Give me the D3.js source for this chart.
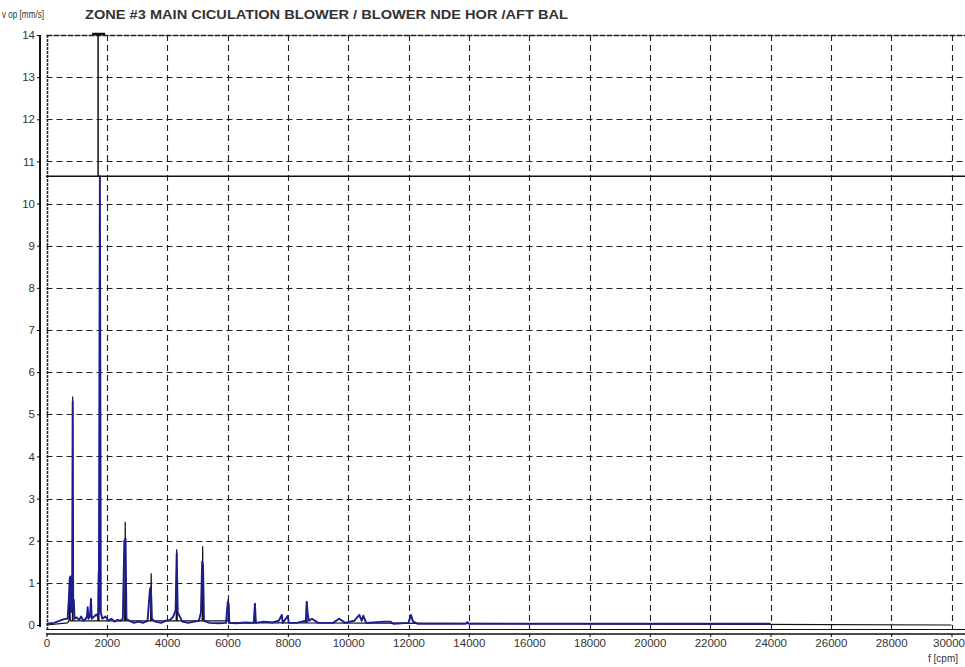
<!DOCTYPE html>
<html><head><meta charset="utf-8">
<script src="https://cdn.jsdelivr.net/npm/d3@7"></script>
<style>
html,body{margin:0;padding:0;background:#fff;}
svg{display:block;}
text{font-family:"Liberation Sans",Arial,sans-serif;fill:#333;}
</style></head>
<body>
<svg id="chart" width="965" height="667"></svg>
<script>
const title = "ZONE #3 MAIN CICULATION BLOWER / BLOWER NDE HOR /AFT BAL";
const yLabel = "v op [mm/s]";
const xLabel = "f [cpm]";
const xTicks = [0,2000,4000,6000,8000,10000,12000,14000,16000,18000,20000,22000,24000,26000,28000,30000];
const yTicks = [0,1,2,3,4,5,6,7,8,9,10,11,12,13,14];
const alarmLevel = 10.65;
const cursorFreq = 1710;

// blue (current) spectrum
const blueFreq = [0,250,580,700,740,770,790,810,850,868,885,905,930,1000,1080,1150,1220,1300,1340,1365,1390,1440,1475,1500,1580,1650,1700,1735,1770,1800,1850,1950,2050,2150,2250,2350,2450,2530,2580,2620,2650,2750,2900,3050,3200,3350,3430,3460,3490,3600,3800,3950,4100,4200,4280,4316,4350,4420,4500,4700,4900,5050,5120,5160,5190,5220,5400,5700,5950,6010,6040,6060,6300,6600,6870,6910,6940,7200,7500,7700,7800,7830,8000,8030,8300,8600,8625,8660,8700,8800,9000,9500,9700,9900,10200,10370,10450,10500,10600,11200,11400,11500,12000,12080,12150,12300,13900,13950,14000,24000];
const blueAmp  = [0.03,0.05,0.14,0.15,0.6,1.1,1.15,0.3,0.5,5.3,0.4,0.6,0.15,0.18,0.12,0.2,0.1,0.15,0.2,0.42,0.15,0.2,0.62,0.15,0.2,0.25,0.2,0.3,10.65,0.3,0.15,0.2,0.1,0.15,0.08,0.12,0.1,0.15,2.0,2.05,0.15,0.1,0.05,0.08,0.05,0.1,0.85,0.9,0.15,0.08,0.05,0.1,0.12,0.2,0.35,1.7,0.3,0.2,0.08,0.05,0.08,0.1,0.3,1.5,1.4,0.1,0.05,0.04,0.05,0.55,0.5,0.05,0.04,0.06,0.05,0.5,0.05,0.08,0.06,0.1,0.24,0.05,0.22,0.05,0.05,0.1,0.55,0.25,0.1,0.15,0.05,0.05,0.15,0.05,0.1,0.24,0.1,0.22,0.05,0.08,0.08,0.03,0.05,0.24,0.08,0.03,0.03,0.07,0.03,0.03];

// black (reference) spectrum
const blackFreq = [0,700,745,760,790,860,868,880,1700,1720,1740,2590,2610,2630,3450,3470,3490,4300,4316,4335,5160,5177,5195,6015,6025,6040,6900,6915,6930,8610,8625,8640,30000];
const blackAmp  = [0.0,0.05,0.1,0.65,0.1,0.1,5.42,0.1,0.1,1.25,0.1,0.1,2.45,0.1,0.1,1.23,0.1,0.1,1.8,0.1,0.1,1.87,0.1,0.1,0.62,0.05,0.05,0.52,0.05,0.05,0.55,0.05,0.0];

const svg = d3.select("#chart");
const x = d3.scaleLinear().domain([0,30000]).range([46.5,951.5]);
const y = d3.scaleLinear().domain([0,14]).range([625,35]);

// grid
const grid = svg.append("g");
grid.selectAll("line.v").data(xTicks).join("line")
  .attr("x1",d=>Math.round(x(d))+0.5).attr("x2",d=>Math.round(x(d))+0.5)
  .attr("y1",35).attr("y2",629)
  .attr("stroke","#222").attr("stroke-width",d=>d===0?1.5:1.1)
  .attr("stroke-dasharray",d=>d===0?"3,1":"6,4");
grid.selectAll("line.h").data(yTicks.filter(d=>d>0)).join("line")
  .attr("x1",46.5).attr("x2",965)
  .attr("y1",d=>Math.round(y(d))+0.5).attr("y2",d=>Math.round(y(d))+0.5)
  .attr("stroke","#222").attr("stroke-width",d=>d===14?1.6:1.1)
  .attr("stroke-dasharray",d=>d===14?"6,1":"6,4");

// frame bottom
svg.append("line").attr("x1",46).attr("x2",965).attr("y1",629.5).attr("y2",629.5)
  .attr("stroke","#111").attr("stroke-width",1.2);

const line = d3.line().x(d=>x(d[0])).y(d=>y(d[1]));

svg.append("path").datum(d3.zip(blackFreq,blackAmp))
  .attr("d",line).attr("fill","none").attr("stroke","#111").attr("stroke-width",1.2);
svg.append("path").datum(d3.zip(blueFreq,blueAmp))
  .attr("d",line).attr("fill","none").attr("stroke","#1c1c8e").attr("stroke-width",1.9)
  .attr("stroke-linejoin","round");

// alarm line and cursor
svg.append("line").attr("x1",46).attr("x2",965).attr("y1",y(alarmLevel)).attr("y2",y(alarmLevel))
  .attr("stroke","#111").attr("stroke-width",1.5);
svg.append("line").attr("x1",x(cursorFreq)).attr("x2",x(cursorFreq)).attr("y1",y(14)).attr("y2",y(alarmLevel))
  .attr("stroke","#111").attr("stroke-width",1.5);
svg.append("line").attr("x1",x(cursorFreq)-6).attr("x2",x(cursorFreq)+7).attr("y1",y(14)-1).attr("y2",y(14)-1)
  .attr("stroke","#111").attr("stroke-width",2.5);

// y axis
const yAxis = svg.append("g").attr("transform","translate(40,0)")
  .call(d3.axisLeft(y).tickValues(yTicks).tickSize(3).tickFormat(d3.format("d")));
yAxis.select(".domain").attr("stroke","#111").attr("stroke-width",2).attr("d","M0,35V627");
yAxis.selectAll("text").attr("font-size",11.5).attr("fill","#444")
  .attr("font-family","'Liberation Sans',Arial,sans-serif").attr("x",-5);

// x axis
const xAxis = svg.append("g").attr("transform","translate(0,634)")
  .call(d3.axisBottom(x).tickValues(xTicks).tickSize(3).tickFormat(d3.format("d")));
xAxis.select(".domain").attr("stroke","#111").attr("stroke-width",1.3).attr("d","M46,0H965");
xAxis.selectAll("text").attr("font-size",11.5).attr("fill","#444")
  .attr("font-family","'Liberation Sans',Arial,sans-serif").attr("y",5)
  .attr("dx",d=>d===30000?-3:0);

// labels
svg.append("text").attr("x",85).attr("y",19).text(title)
  .attr("font-family","'Open Sans',sans-serif").attr("font-weight","bold")
  .attr("font-size",12.5).attr("fill","#111")
  .attr("textLength",483).attr("lengthAdjust","spacingAndGlyphs");
svg.append("text").attr("x",2).attr("y",18).text(yLabel)
  .attr("font-size",10).attr("fill","#444")
  .attr("textLength",42).attr("lengthAdjust","spacingAndGlyphs");
svg.append("text").attr("x",928).attr("y",662).text(xLabel)
  .attr("font-size",10).attr("fill","#444");
</script>
</body></html>
